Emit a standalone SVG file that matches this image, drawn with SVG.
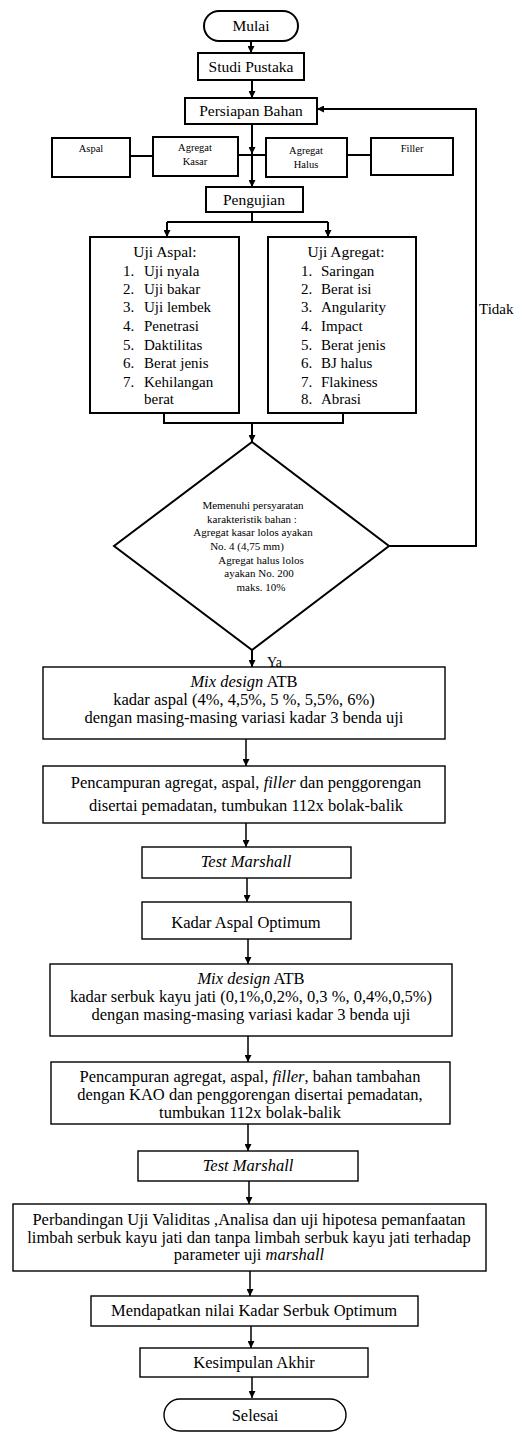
<svg xmlns="http://www.w3.org/2000/svg" width="525" height="1433" viewBox="0 0 525 1433" font-family="'Liberation Serif', 'DejaVu Serif', 'Noto Serif', serif">
<style>
.b{fill:#fff;stroke:#000;stroke-width:2}
.t{fill:#fff;stroke:#000;stroke-width:1.4}
text{font-family:'Liberation Serif','DejaVu Serif','Noto Serif',serif;fill:#000}
.m{font-size:16.5px;text-anchor:middle}
.n{font-size:15.5px;text-anchor:middle}
.s{font-size:10.5px;text-anchor:middle}
.d{font-size:11px;text-anchor:middle}
.l{font-size:15px}
.c line,.c path{stroke:#000;fill:none}
</style>
<defs>
<marker id="a" markerUnits="userSpaceOnUse" markerWidth="7" markerHeight="7" refX="7" refY="3.5" orient="auto">
<path d="M0,0 L7,3.5 L0,7 z" fill="#000"/>
</marker>
</defs>
<rect width="525" height="1433" fill="#fff"/>
<g class="c">
<line x1="251" y1="41" x2="251" y2="53" stroke-width="2" marker-end="url(#a)"/>
<line x1="252" y1="80" x2="252" y2="98" stroke-width="2" marker-end="url(#a)"/>
<line x1="252" y1="124" x2="252" y2="154" stroke-width="2" marker-end="url(#a)"/>
<line x1="252" y1="154" x2="252" y2="187" stroke-width="2" marker-end="url(#a)"/>
<line x1="130" y1="156" x2="153" y2="156" stroke-width="2"/>
<line x1="238" y1="155" x2="266" y2="155" stroke-width="2"/>
<line x1="347" y1="155" x2="371" y2="155" stroke-width="2"/>
<line x1="252" y1="212" x2="252" y2="222" stroke-width="2"/>
<line x1="167" y1="222" x2="328" y2="222" stroke-width="2"/>
<line x1="167" y1="222" x2="167" y2="237" stroke-width="2" marker-end="url(#a)"/>
<line x1="328" y1="222" x2="328" y2="237" stroke-width="2" marker-end="url(#a)"/>
<path d="M164,413 V423 H343 V413" stroke-width="2"/>
<line x1="252" y1="423" x2="252" y2="442" stroke-width="2" marker-end="url(#a)"/>
<path d="M389,546 H476 V109 H317" stroke-width="2" marker-end="url(#a)"/>
<line x1="252" y1="650" x2="252" y2="667" stroke-width="2" marker-end="url(#a)"/>
<line x1="246" y1="739" x2="246" y2="766" stroke-width="1.5" marker-end="url(#a)"/>
<line x1="246" y1="823" x2="246" y2="847" stroke-width="1.5" marker-end="url(#a)"/>
<line x1="247" y1="878" x2="247" y2="902" stroke-width="1.5" marker-end="url(#a)"/>
<line x1="248" y1="939" x2="248" y2="964" stroke-width="1.5" marker-end="url(#a)"/>
<line x1="248" y1="1036" x2="248" y2="1062" stroke-width="1.5" marker-end="url(#a)"/>
<line x1="248" y1="1124" x2="248" y2="1151" stroke-width="1.5" marker-end="url(#a)"/>
<line x1="249" y1="1181" x2="249" y2="1204" stroke-width="1.5" marker-end="url(#a)"/>
<line x1="250" y1="1271" x2="250" y2="1296" stroke-width="1.5" marker-end="url(#a)"/>
<line x1="251" y1="1326" x2="251" y2="1348" stroke-width="1.5" marker-end="url(#a)"/>
<line x1="252" y1="1377" x2="252" y2="1398" stroke-width="1.5" marker-end="url(#a)"/>
<text x="479" y="314" class="l">Tidak</text>
<text x="267" y="667" font-size="14">Ya</text>
</g>
<g id="mulai"><rect class="b" x="204" y="11" width="94" height="30" rx="15"/><text class="n" x="251" y="31" font-size="13">Mulai</text></g>
<g id="studi"><rect class="b" x="198" y="53" width="106" height="27"/><text class="n" x="251" y="72">Studi Pustaka</text></g>
<g id="persiapan"><rect class="b" x="185" y="98" width="132" height="26"/><text class="n" x="251" y="116" font-size="16">Persiapan Bahan</text></g>
<g id="aspal"><rect class="b" x="52" y="138" width="78" height="39"/><text class="s" x="91" y="152">Aspal</text></g>
<g id="kasar"><rect class="b" x="153" y="137" width="85" height="39"/><text class="s" x="195" y="151">Agregat</text><text class="s" x="195" y="165">Kasar</text></g>
<g id="halus"><rect class="b" x="266" y="138" width="81" height="39"/><text class="s" x="306" y="154">Agregat</text><text class="s" x="306" y="168">Halus</text></g>
<g id="filler"><rect class="b" x="371" y="138" width="82" height="37"/><text class="s" x="412" y="152">Filler</text></g>
<g id="pengujian"><rect class="b" x="206" y="187" width="97" height="25"/><text class="n" x="254" y="205">Pengujian</text></g>
<g id="ujiaspal"><rect class="b" x="90" y="237" width="149" height="176"/>
<text class="n" x="165" y="257" font-size="15">Uji Aspal:</text>
<text class="l" x="123" y="276">1.</text><text class="l" x="144" y="276">Uji nyala</text>
<text class="l" x="123" y="294">2.</text><text class="l" x="144" y="294">Uji bakar</text>
<text class="l" x="123" y="312">3.</text><text class="l" x="144" y="312">Uji lembek</text>
<text class="l" x="123" y="331">4.</text><text class="l" x="144" y="331">Penetrasi</text>
<text class="l" x="123" y="350">5.</text><text class="l" x="144" y="350">Daktilitas</text>
<text class="l" x="123" y="368">6.</text><text class="l" x="144" y="368">Berat jenis</text>
<text class="l" x="123" y="387" fill="#444">7.</text><text class="l" x="144" y="387">Kehilangan</text>
<text class="l" x="144" y="404">berat</text>
</g>
<g id="ujiagregat"><rect class="b" x="268" y="237" width="148" height="176"/>
<text class="n" x="346" y="257" font-size="15">Uji Agregat:</text>
<text class="l" x="301" y="276">1.</text><text class="l" x="321" y="276">Saringan</text>
<text class="l" x="301" y="294">2.</text><text class="l" x="321" y="294">Berat isi</text>
<text class="l" x="301" y="312">3.</text><text class="l" x="321" y="312">Angularity</text>
<text class="l" x="301" y="331">4.</text><text class="l" x="321" y="331">Impact</text>
<text class="l" x="301" y="350">5.</text><text class="l" x="321" y="350">Berat jenis</text>
<text class="l" x="301" y="368">6.</text><text class="l" x="321" y="368">BJ halus</text>
<text class="l" x="301" y="387">7.</text><text class="l" x="321" y="387">Flakiness</text>
<text class="l" x="301" y="404">8.</text><text class="l" x="321" y="404">Abrasi</text>
</g>
<g id="keputusan"><polygon class="b" points="252,442 389,546 252,650 114,546"/>
<text class="d" x="253" y="509">Memenuhi  persyaratan</text>
<text class="d" x="252" y="523">karakteristik  bahan :</text>
<text class="d" x="253" y="536">Agregat  kasar lolos ayakan</text>
<text class="d" x="247" y="550">No. 4 (4,75 mm)</text>
<text class="d" x="261" y="564">Agregat  halus  lolos</text>
<text class="d" x="259" y="577">ayakan  No. 200</text>
<text class="d" x="261" y="591">maks. 10%</text>
</g>
<g id="mix1"><rect class="t" x="43" y="667" width="402" height="72"/>
<text class="m" x="244" y="687"><tspan font-style="italic">Mix design</tspan> ATB</text>
<text class="m" x="244" y="705">kadar aspal (4%, 4,5%, 5 %, 5,5%, 6%)</text>
<text class="m" x="244" y="723">dengan masing-masing variasi kadar 3 benda uji</text>
</g>
<g id="campur1"><rect class="t" x="43" y="766" width="402" height="57"/>
<text class="m" x="246" y="788">Pencampuran agregat, aspal, <tspan font-style="italic">filler</tspan> dan penggorengan</text>
<text class="m" x="246" y="811">disertai  pemadatan, tumbukan 112x bolak-balik</text>
</g>
<g id="marshall1"><rect class="t" x="142" y="847" width="209" height="31"/><text class="m" x="246" y="867" font-style="italic">Test Marshall</text></g>
<g id="kao"><rect class="t" x="142" y="902" width="209" height="37"/><text class="m" x="246" y="928">Kadar Aspal Optimum</text></g>
<g id="mix2"><rect class="t" x="50" y="964" width="402" height="72"/>
<text class="m" x="251" y="984"><tspan font-style="italic">Mix design</tspan> ATB</text>
<text class="m" x="251" y="1002">kadar serbuk kayu jati (0,1%,0,2%, 0,3 %, 0,4%,0,5%)</text>
<text class="m" x="251" y="1020">dengan masing-masing variasi kadar 3 benda uji</text>
</g>
<g id="campur2"><rect class="t" x="51" y="1062" width="399" height="62"/>
<text class="m" x="250" y="1082">Pencampuran agregat, aspal, <tspan font-style="italic">filler</tspan>, bahan tambahan</text>
<text class="m" x="250" y="1100">dengan KAO dan penggorengan disertai  pemadatan,</text>
<text class="m" x="250" y="1118">tumbukan 112x bolak-balik</text>
</g>
<g id="marshall2"><rect class="t" x="138" y="1151" width="220" height="30"/><text class="m" x="248" y="1171" font-style="italic">Test Marshall</text></g>
<g id="perbandingan"><rect class="t" x="13" y="1204" width="473" height="67"/>
<text class="m" x="249" y="1225">Perbandingan Uji Validitas ,Analisa dan uji hipotesa pemanfaatan</text>
<text class="m" x="249" y="1243">limbah serbuk kayu jati dan tanpa limbah serbuk kayu jati terhadap</text>
<text class="m" x="249" y="1260">parameter uji <tspan font-style="italic">marshall</tspan></text>
</g>
<g id="mendapatkan"><rect class="t" x="91" y="1296" width="327" height="30"/><text class="m" x="254" y="1316">Mendapatkan nilai Kadar Serbuk Optimum</text></g>
<g id="kesimpulan"><rect class="t" x="140" y="1348" width="228" height="29"/><text class="m" x="254" y="1368">Kesimpulan Akhir</text></g>
<g id="selesai"><rect class="t" x="164" y="1399" width="182" height="32" rx="16"/><text class="m" x="255" y="1421">Selesai</text></g>
</svg>
